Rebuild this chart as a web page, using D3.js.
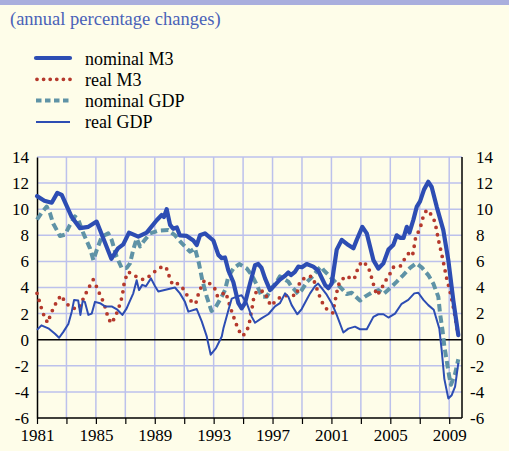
<!DOCTYPE html>
<html>
<head>
<meta charset="utf-8">
<script src="https://cdn.jsdelivr.net/npm/d3@7"></script>
<style>
  body { margin: 0; background: #fefde9; }
  svg { display: block; font-family: "Liberation Serif", "Times New Roman", serif; }
</style>
</head>
<body>
<div id="chart"></div>
<script>
// series, [year, % change]
const nominalM3 = [
  [1981.0, 11.0], [1981.5, 10.65], [1982.0, 10.5], [1982.38, 11.25], [1982.68, 11.1], [1983.36, 9.4],
  [1983.92, 8.55], [1984.49, 8.65], [1985.05, 9.05], [1986.05, 6.2], [1986.5, 7.0], [1986.86, 7.3],
  [1987.25, 8.2], [1987.88, 7.9], [1988.45, 8.2], [1989.13, 9.15], [1989.47, 9.55], [1989.62, 9.4],
  [1989.81, 10.0], [1990.04, 8.8], [1990.25, 8.5], [1990.5, 8.6], [1990.7, 8.0], [1991.17, 7.95],
  [1991.62, 7.6], [1991.85, 7.25], [1992.07, 8.0], [1992.41, 8.15], [1992.98, 7.6], [1993.32, 6.5],
  [1993.55, 6.25], [1993.77, 6.3], [1994.0, 5.3], [1994.34, 4.4], [1994.68, 2.8], [1994.9, 2.4],
  [1995.13, 2.8], [1995.47, 4.3], [1995.81, 5.7], [1996.03, 5.8], [1996.25, 5.5], [1996.49, 4.7],
  [1996.83, 3.8], [1997.17, 4.2], [1997.5, 4.6], [1997.85, 4.9], [1998.07, 5.15], [1998.25, 4.95],
  [1998.52, 5.2], [1998.75, 5.6], [1999.0, 5.55], [1999.32, 5.8], [1999.77, 5.6], [2000.1, 5.3],
  [2000.57, 4.2], [2000.8, 3.95], [2001.02, 4.3], [2001.36, 6.9], [2001.7, 7.65], [2002.15, 7.25],
  [2002.49, 7.0], [2002.72, 7.65], [2003.1, 8.65], [2003.4, 8.15], [2003.85, 6.1], [2004.19, 5.45],
  [2004.53, 5.85], [2004.87, 6.9], [2005.2, 7.25], [2005.44, 8.0], [2005.66, 7.8], [2005.9, 7.8],
  [2006.12, 8.65], [2006.3, 8.2], [2006.57, 9.2], [2006.8, 10.2], [2007.02, 10.6], [2007.29, 11.5],
  [2007.58, 12.1], [2007.81, 11.7], [2008.15, 10.2], [2008.6, 8.4], [2008.94, 6.1], [2009.28, 3.0],
  [2009.62, 0.35]
];

const realM3 = [
  [1981.0, 3.55], [1981.36, 2.2], [1981.54, 1.65], [1981.73, 1.3], [1981.93, 1.95], [1982.15, 2.5],
  [1982.4, 3.05], [1982.65, 3.4], [1982.92, 2.85], [1983.33, 2.45], [1983.8, 2.35], [1984.04, 2.9],
  [1984.3, 3.5], [1984.55, 4.05], [1984.82, 4.6], [1985.05, 4.05], [1985.28, 3.45], [1985.55, 2.8],
  [1985.84, 1.65], [1986.05, 1.25], [1986.32, 1.75], [1986.52, 2.35], [1986.69, 2.9], [1986.82, 3.55],
  [1986.9, 4.2], [1987.05, 4.8], [1987.2, 5.2], [1987.73, 4.85], [1988.22, 4.6], [1988.68, 4.9],
  [1989.13, 5.35], [1989.58, 5.65], [1989.88, 5.35], [1990.0, 4.75], [1990.22, 4.2], [1990.53, 4.3],
  [1990.87, 4.0], [1991.17, 3.45], [1991.51, 2.9], [1991.78, 2.75], [1991.92, 3.35], [1992.14, 4.0],
  [1992.37, 4.55], [1992.68, 4.35], [1993.05, 4.0], [1993.27, 3.3], [1993.5, 3.4], [1993.77, 3.65],
  [1993.93, 3.25], [1994.1, 2.6], [1994.29, 1.95], [1994.47, 1.4], [1994.68, 0.75], [1994.97, 0.28],
  [1995.25, 0.65], [1995.42, 1.25], [1995.52, 1.9], [1995.63, 2.55], [1995.72, 3.2], [1995.93, 3.75],
  [1996.44, 3.7], [1996.67, 3.1], [1996.88, 2.6], [1997.12, 2.85], [1997.56, 3.3], [1998.07, 3.4],
  [1998.64, 3.4], [1998.75, 4.0], [1998.87, 4.5], [1999.36, 4.85], [1999.66, 4.85], [1999.9, 4.3],
  [2000.1, 3.6], [2000.38, 2.85], [2000.68, 2.35], [2001.1, 2.05], [2001.2, 2.7], [2001.31, 3.3],
  [2001.43, 4.0], [2001.58, 4.5], [2002.04, 4.9], [2002.42, 4.6], [2002.65, 4.85], [2002.78, 5.45],
  [2003.06, 6.0], [2003.44, 5.7], [2003.62, 5.2], [2003.78, 4.55], [2003.92, 4.0], [2004.08, 3.4],
  [2004.35, 3.8], [2004.64, 4.45], [2004.93, 4.95], [2005.2, 5.55], [2005.66, 5.6], [2005.95, 6.15],
  [2006.22, 6.6], [2006.5, 6.4], [2006.61, 7.05], [2006.68, 7.65], [2006.9, 8.25], [2007.09, 8.8],
  [2007.24, 9.45], [2007.47, 9.95], [2007.81, 9.55], [2008.04, 9.0], [2008.26, 7.7], [2008.53, 6.35],
  [2008.83, 4.7], [2009.12, 3.4], [2009.34, 2.15], [2009.62, 0.28]
];

const nominalGDP = [
  [1981.0, 9.2], [1981.3, 9.7], [1981.66, 10.2], [1981.88, 9.7], [1982.1, 8.9], [1982.56, 7.95],
  [1982.9, 8.05], [1983.24, 8.8], [1983.58, 9.45], [1983.8, 9.2], [1984.15, 8.15], [1984.6, 7.0],
  [1984.83, 6.1], [1985.05, 6.85], [1985.4, 7.9], [1985.84, 8.15], [1986.07, 7.65], [1986.41, 6.35],
  [1986.75, 5.5], [1987.09, 5.5], [1987.32, 5.85], [1987.54, 6.9], [1987.77, 7.75], [1988.0, 7.15],
  [1988.22, 7.5], [1988.68, 8.15], [1989.24, 8.35], [1989.92, 8.4], [1990.37, 8.0], [1990.83, 7.4],
  [1991.39, 6.75], [1991.73, 7.0], [1992.0, 5.85], [1992.23, 4.55], [1992.53, 3.3], [1992.85, 2.2],
  [1993.14, 2.5], [1993.55, 3.3], [1993.77, 3.8], [1994.0, 4.85], [1994.34, 5.45], [1994.74, 5.8],
  [1995.25, 5.45], [1995.59, 4.95], [1995.93, 4.2], [1996.27, 3.3], [1996.61, 3.3], [1996.95, 3.95],
  [1997.28, 4.45], [1997.5, 4.85], [1997.7, 4.7], [1998.07, 4.45], [1998.3, 4.05], [1998.52, 3.8],
  [1998.75, 3.5], [1998.98, 3.8], [1999.36, 4.45], [1999.73, 4.85], [2000.1, 5.4], [2000.3, 5.6],
  [2000.45, 5.35], [2000.8, 4.95], [2001.24, 4.45], [2001.58, 4.05], [2002.04, 3.5], [2002.38, 3.6],
  [2002.6, 3.35], [2002.94, 3.0], [2003.28, 3.3], [2003.73, 3.6], [2004.19, 3.8], [2004.53, 3.5],
  [2004.98, 3.95], [2005.44, 4.45], [2005.88, 4.95], [2006.34, 5.5], [2006.75, 5.85], [2007.13, 5.55],
  [2007.58, 4.95], [2007.92, 4.3], [2008.26, 3.3], [2008.38, 2.0], [2008.56, 0.6], [2008.67, -0.5],
  [2008.83, -1.6], [2009.0, -2.8], [2009.12, -3.45], [2009.4, -2.6], [2009.62, -1.5]
];

const realGDP = [
  [1981.0, 0.75], [1981.3, 1.1], [1981.77, 0.87], [1982.22, 0.45], [1982.5, 0.15], [1982.79, 0.6],
  [1983.13, 1.2], [1983.36, 2.15], [1983.52, 3.05], [1983.8, 3.0], [1983.95, 1.9], [1984.1, 2.95],
  [1984.25, 2.9], [1984.49, 1.9], [1984.72, 2.0], [1984.94, 2.9], [1985.28, 2.8], [1985.62, 2.55],
  [1986.07, 2.55], [1986.46, 2.3], [1986.8, 1.9], [1987.09, 2.4], [1987.32, 3.0], [1987.54, 3.55],
  [1987.77, 4.55], [1987.93, 3.8], [1988.15, 4.2], [1988.4, 4.1], [1988.74, 4.7], [1989.02, 4.1],
  [1989.24, 3.7], [1989.81, 3.85], [1990.37, 4.0], [1990.71, 3.55], [1991.05, 2.9], [1991.28, 2.15],
  [1991.85, 2.35], [1992.19, 1.4], [1992.53, 0.25], [1992.8, -1.15], [1993.16, -0.65], [1993.55, 0.25],
  [1993.66, 0.85], [1994.0, 2.25], [1994.23, 3.15], [1994.57, 3.3], [1994.9, 3.4], [1995.25, 2.8],
  [1995.59, 1.75], [1995.81, 1.3], [1996.27, 1.65], [1996.71, 1.95], [1997.17, 2.55], [1997.5, 2.8],
  [1997.85, 3.55], [1998.07, 3.3], [1998.3, 2.65], [1998.68, 1.95], [1998.98, 2.35], [1999.36, 3.15],
  [1999.55, 3.55], [1999.88, 4.1], [2000.1, 4.3], [2000.34, 3.95], [2000.68, 3.45], [2001.02, 2.8],
  [2001.36, 1.9], [2001.81, 0.55], [2002.15, 0.85], [2002.6, 1.0], [2002.94, 0.8], [2003.4, 0.8],
  [2003.85, 1.75], [2004.19, 1.95], [2004.53, 1.95], [2004.87, 1.7], [2005.32, 2.0], [2005.77, 2.75],
  [2006.22, 3.05], [2006.63, 3.55], [2006.9, 3.6], [2007.25, 3.05], [2007.58, 2.65], [2007.95, 2.3],
  [2008.33, 0.85], [2008.49, -0.8], [2008.67, -3.0], [2008.94, -4.5], [2009.17, -4.25], [2009.4, -3.6],
  [2009.62, -1.8]
];

const yTicks = [-6, -4, -2, 0, 2, 4, 6, 8, 10, 12, 14];
const xTicks = [1981, 1983, 1985, 1987, 1989, 1991, 1993, 1995, 1997, 1999, 2001, 2003, 2005, 2007, 2009];
const xLabels = [1981, 1985, 1989, 1993, 1997, 2001, 2005, 2009];
const legendNames = ["nominal M3", "real M3", "nominal GDP", "real GDP"];

// page size
const W = 509, H = 451;
const plot = {left: 37, right: 462, top: 157, bottom: 418};

const svg = d3.select("#chart")
  .append("svg")
    .attr("width", W)
    .attr("height", H);

svg.append("rect").attr("width", W).attr("height", H).attr("fill", "#fefde9");
// lavender band along the top
svg.append("rect").attr("width", W).attr("height", 5).attr("fill", "#a9aedd");

svg.append("text")
  .attr("x", 10).attr("y", 25)
  .attr("font-size", 18.5)
  .attr("fill", "#4a62b8")
  .text("(annual percentage changes)");

const x = d3.scaleLinear().domain([1981, 2009.87]).range([plot.left, plot.right]);
const y = d3.scaleLinear().domain([-6, 14]).range([plot.bottom, plot.top]);

// grid
svg.append("g")
  .selectAll("line")
  .data(yTicks.filter(d => d != 0 && d != -6))
  .join("line")
    .attr("x1", plot.left).attr("x2", plot.right)
    .attr("y1", d => y(d)).attr("y2", d => y(d))
    .attr("stroke", "#bcc1ec").attr("stroke-width", 1.5);

svg.append("g")
  .selectAll("line")
  .data(xTicks.slice(1))
  .join("line")
    .attr("x1", d => x(d)).attr("x2", d => x(d))
    .attr("y1", plot.top).attr("y2", plot.bottom)
    .attr("stroke", "#bcc1ec").attr("stroke-width", 1.5);

// zero line
svg.append("line")
  .attr("x1", plot.left).attr("x2", plot.right)
  .attr("y1", y(0)).attr("y2", y(0))
  .attr("stroke", "#000").attr("stroke-width", 1.5);

// left axis
svg.append("g")
  .attr("transform", `translate(${plot.left},0)`)
  .call(d3.axisLeft(y).tickValues(yTicks).tickSize(0).tickPadding(8).tickFormat(d => d < 0 ? "-" + (-d) : d))
  .call(g => g.select(".domain").attr("stroke", "#000").attr("stroke-width", 1.5))
  .call(g => g.selectAll("text").attr("font-size", 17).attr("font-family", "Liberation Serif, serif").attr("fill", "#000"));

// right axis, labels with digits lined up
const right = svg.append("g");
right.append("line")
  .attr("x1", plot.right).attr("x2", plot.right)
  .attr("y1", plot.top).attr("y2", plot.bottom)
  .attr("stroke", "#000").attr("stroke-width", 1.5);
right.selectAll("text")
  .data(yTicks)
  .join("text")
    .attr("x", d => d < 0 ? plot.right + 8 : plot.right + 14)
    .attr("y", d => y(d))
    .attr("dy", "0.34em")
    .attr("font-size", 17)
    .text(d => d < 0 ? "-" + (-d) : d);

// bottom axis
svg.append("g")
  .attr("transform", `translate(0,${plot.bottom})`)
  .call(d3.axisBottom(x).tickValues(xTicks).tickSize(6).tickPadding(5)
    .tickFormat(d => xLabels.includes(d) ? d : ""))
  .call(g => g.select(".domain").attr("stroke", "#000").attr("stroke-width", 1.5).attr("d", `M${plot.left},0H${plot.right}`))
  .call(g => g.selectAll(".tick line").attr("stroke", "#000").attr("stroke-width", 1.2))
  .call(g => g.selectAll("text").attr("font-size", 17).attr("font-family", "Liberation Serif, serif").attr("fill", "#000"));

const line = d3.line()
  .x(d => x(d[0]))
  .y(d => y(d[1]));

const series = [
  {data: nominalGDP, color: "#5f93a6", width: 4, dash: "7.5 4", cap: "butt"},
  {data: realM3, color: "#b5392c", width: 3.8, dash: "0 7.4", cap: "round"},
  {data: realGDP, color: "#2d4db3", width: 2, dash: null, cap: "butt"},
  {data: nominalM3, color: "#2d4db3", width: 4.2, dash: null, cap: "round"}
];

svg.append("g")
  .selectAll("path")
  .data(series)
  .join("path")
    .attr("d", d => line(d.data))
    .attr("fill", "none")
    .attr("stroke", d => d.color)
    .attr("stroke-width", d => d.width)
    .attr("stroke-dasharray", d => d.dash)
    .attr("stroke-linecap", d => d.cap)
    .attr("stroke-linejoin", "round");

// legend
const legendStyle = [series[3], series[1], series[0], series[2]];
const leg = svg.append("g")
  .selectAll("g")
  .data(legendNames)
  .join("g")
    .attr("transform", (d, i) => `translate(0,${58 + i * 21.3})`);

leg.append("line")
  .attr("x1", (d, i) => i == 1 ? 37 : 36).attr("x2", 70)
  .attr("y1", 0).attr("y2", 0)
  .attr("stroke", (d, i) => legendStyle[i].color)
  .attr("stroke-width", (d, i) => i == 3 ? 2 : legendStyle[i].width)
  .attr("stroke-dasharray", (d, i) => i == 2 ? "5.5 3.5" : (i == 1 ? "0 6.6" : legendStyle[i].dash))
  .attr("stroke-linecap", (d, i) => legendStyle[i].cap);

leg.append("text")
  .attr("x", 85)
  .attr("y", 6.5)
  .attr("font-size", 18)
  .text(d => d);
</script>
</body>
</html>
